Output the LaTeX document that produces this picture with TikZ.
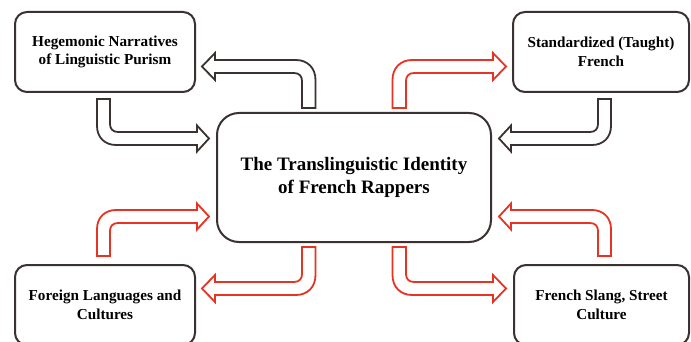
\documentclass[tikz,border=0pt]{standalone}
\usepackage{fontspec}
\setmainfont{Liberation Serif}
\definecolor{darkline}{HTML}{3A3230}
\definecolor{redline}{HTML}{E63323}
\tikzset{
  box/.style={draw=darkline, line width=2pt, rounded corners=12pt, fill=white,
    align=center, font=\fontsize{15.2}{18.5}\selectfont\bfseries, inner sep=0pt},
  mainbox/.style={box, rounded corners=22pt, font=\fontsize{19}{22.5}\selectfont\bfseries},
  blockarrow/.style={line width=1.8pt, fill=white, line join=miter},
}
\newcommand\arrowOut[1]{%
  \draw[blockarrow, draw=#1] (302,108) -- (302,81)
    .. controls (302,76.6) and (299.6,73) .. (294,73)
    -- (215,73) -- (215,80) -- (202,66.5) -- (215,53) -- (215,60) -- (296,60)
    .. controls (307.5,60) and (315.5,68) .. (315.5,80) -- (315.5,108) -- cycle;}
\newcommand\arrowIn[1]{%
  \draw[blockarrow, draw=#1] (97,99) -- (97,126)
    .. controls (97,137.5) and (105,145) .. (116,145)
    -- (197,145) -- (197,151.5) -- (209,138.5) -- (197,125.5) -- (197,132) -- (118,132)
    .. controls (112.6,132) and (110,128.6) .. (110,124) -- (110,99) -- cycle;}
\begin{document}
\begin{tikzpicture}[x=1pt, y=-1pt]
\useasboundingbox (0,0) rectangle (691,342);
\fill[white] (0,0) rectangle (691,342);
% boxes
\node[box, minimum width=180pt, minimum height=80pt] (hegem) at (105,52)
  {Hegemonic Narratives\\of Linguistic Purism};
\node[box, minimum width=176pt, minimum height=80pt] (stdfr) at (601,52)
  {Standardized (Taught)\\French};
\node[box, minimum width=180pt, minimum height=80pt] (foreign) at (105,305)
  {Foreign Languages and\\Cultures};
\node[box, minimum width=175pt, minimum height=80pt] (slang) at (601.5,305)
  {French Slang, Street\\Culture};
\node[mainbox, minimum width=274pt, minimum height=129pt] (center) at (354,177.5)
  {The Translinguistic Identity\\of French Rappers};
% top-left arrows
\arrowOut{darkline}
\arrowIn{darkline}
% top-right arrows
\begin{scope}[shift={(708,0)}, xscale=-1]
  \arrowOut{redline}
  \arrowIn{darkline}
\end{scope}
% bottom-left arrows
\begin{scope}[shift={(0,355)}, yscale=-1]
  \arrowOut{redline}
  \arrowIn{redline}
\end{scope}
% bottom-right arrows
\begin{scope}[shift={(708,355)}, xscale=-1, yscale=-1]
  \arrowOut{redline}
  \arrowIn{redline}
\end{scope}
\end{tikzpicture}
\end{document}
